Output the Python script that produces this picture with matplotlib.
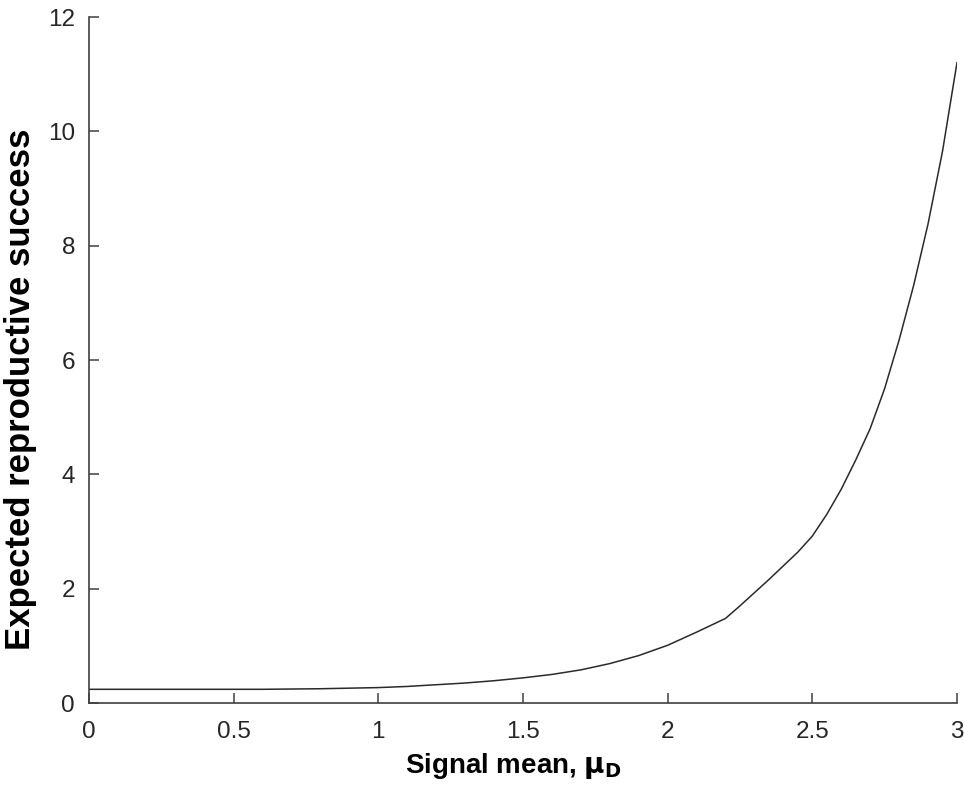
import matplotlib
matplotlib.use("Agg")
import matplotlib.pyplot as plt
import numpy as np

# signal mean (x) and expected reproductive success (y)
signal_mean = [0.0, 0.1, 0.2, 0.3, 0.4, 0.5, 0.6, 0.7, 0.8, 0.9, 1.0,
               1.1, 1.2, 1.3, 1.4, 1.5, 1.6, 1.7, 1.8, 1.9, 2.0,
               2.1, 2.2, 2.25, 2.3, 2.35, 2.4, 2.45, 2.5, 2.55, 2.6,
               2.65, 2.7, 2.75, 2.8, 2.85, 2.9, 2.95, 3.0]
success = [0.24, 0.24, 0.24, 0.24, 0.24, 0.24, 0.24, 0.245, 0.25, 0.26, 0.27,
           0.29, 0.32, 0.35, 0.39, 0.44, 0.50, 0.58, 0.69, 0.83, 1.01,
           1.24, 1.48, 1.70, 1.93, 2.16, 2.40, 2.64, 2.92, 3.30, 3.74,
           4.25, 4.80, 5.50, 6.35, 7.30, 8.38, 9.65, 11.2]

x_ticks = [0, 0.5, 1, 1.5, 2, 2.5, 3]
x_ticklabels = ["0", "0.5", "1", "1.5", "2", "2.5", "3"]
y_ticks = [0, 2, 4, 6, 8, 10, 12]

plt.rcParams["font.family"] = ["Liberation Sans", "DejaVu Sans"]
plt.rcParams["xtick.direction"] = "in"
plt.rcParams["ytick.direction"] = "in"

fig = plt.figure(figsize=(9.64, 7.96), dpi=100)
ax = fig.add_axes([0.0923, 0.1168, 0.9004, 0.8618])

ax.plot(signal_mean, success, color="#2a2a2a", linewidth=1.1)

ax.set_xlim(0, 3)
ax.set_ylim(0, 12)
ax.set_xticks(x_ticks)
ax.set_xticklabels(x_ticklabels)
ax.set_yticks(y_ticks)

for side in ("top", "right"):
    ax.spines[side].set_visible(False)
for side in ("left", "bottom"):
    ax.spines[side].set_color("#404040")
    ax.spines[side].set_linewidth(1.2)

ax.tick_params(axis="both", length=7, width=1.1, color="#404040",
               labelsize=17.5, labelcolor="#262626")
ax.tick_params(axis="x", pad=13)
ax.tick_params(axis="y", pad=10)

ax.set_xlabel(r"Signal mean, $\mathbf{\mu_D}$", fontsize=20, fontweight="bold",
              labelpad=6, x=0.489)
ax.set_ylabel("Expected reproductive success", fontsize=25, fontweight="bold",
              labelpad=8, y=0.458)

fig.savefig("out.png", dpi=100)
